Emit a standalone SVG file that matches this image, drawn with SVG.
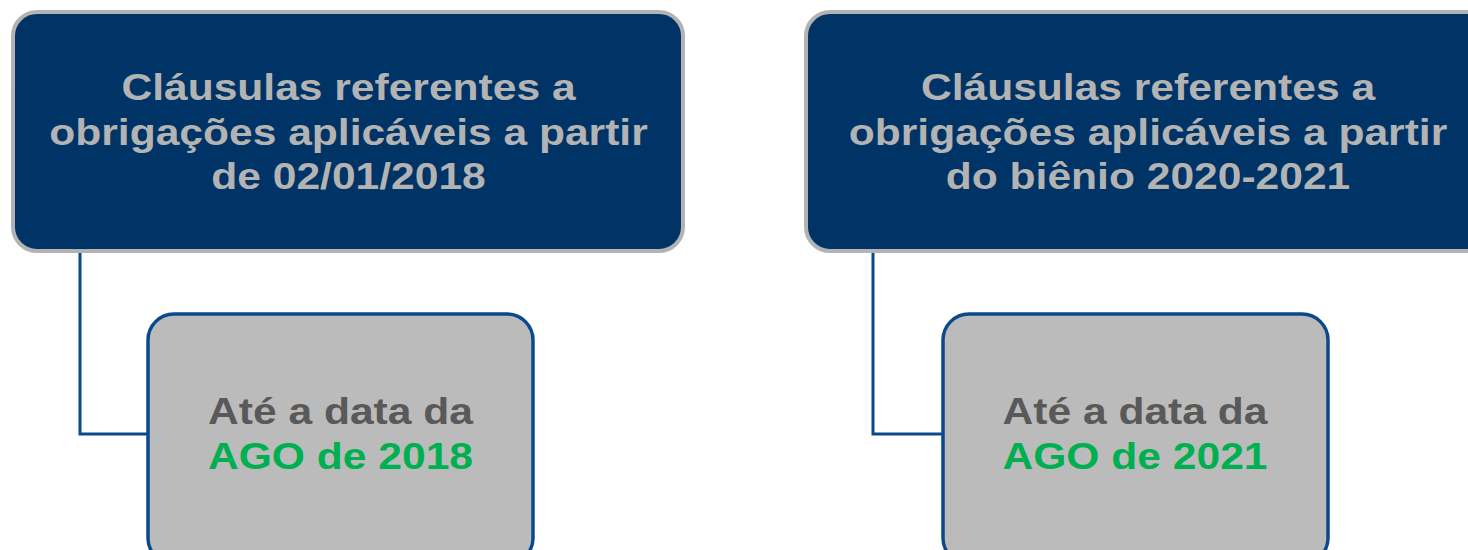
<svg xmlns="http://www.w3.org/2000/svg" width="1468" height="550" viewBox="0 0 1468 550">
<style>
.parent{fill:#003366;stroke:#b3b3b3;stroke-width:4}
.child{fill:#bbbbbb;stroke:#0a4a8c;stroke-width:3.5}
.conn{fill:none;stroke:#0a4a8c;stroke-width:3}
.t{font-family:"Liberation Sans",Arial,sans-serif;font-weight:bold;font-size:37.5px;text-anchor:middle}
.tp{fill:#b3b3b3}
.tc{fill:#595959}
.tg{fill:#00b050}
</style>
<rect width="1468" height="550" fill="#ffffff"/>
<g id="connectors">
<path class="conn" d="M80,252 V434 H148"/>
<path class="conn" d="M873,252 V434 H943"/>
</g>
<g id="node-left-parent">
<rect class="parent" x="13" y="12" width="670" height="239" rx="24"/>
<g transform="translate(348.5,0) scale(1.135,1)">
<text class="t tp" x="0" y="100">Cláusulas referentes a</text>
<text class="t tp" x="0" y="145">obrigações aplicáveis a partir</text>
<text class="t tp" x="0" y="189">de 02/01/2018</text>
</g>
</g>
<g id="node-left-child">
<rect class="child" x="148" y="314" width="385" height="250" rx="26"/>
<g transform="translate(340.5,0) scale(1.135,1)">
<text class="t tc" x="0" y="424">Até a data da</text>
<text class="t tg" x="0" y="469">AGO de 2018</text>
</g>
</g>
<g id="node-right-parent">
<rect class="parent" x="806" y="12" width="700" height="239" rx="24"/>
<g transform="translate(1148,0) scale(1.135,1)">
<text class="t tp" x="0" y="100">Cláusulas referentes a</text>
<text class="t tp" x="0" y="145">obrigações aplicáveis a partir</text>
<text class="t tp" x="0" y="189">do biênio 2020-2021</text>
</g>
</g>
<g id="node-right-child">
<rect class="child" x="943" y="314" width="385" height="250" rx="26"/>
<g transform="translate(1135,0) scale(1.135,1)">
<text class="t tc" x="0" y="424">Até a data da</text>
<text class="t tg" x="0" y="469">AGO de 2021</text>
</g>
</g>
</svg>
